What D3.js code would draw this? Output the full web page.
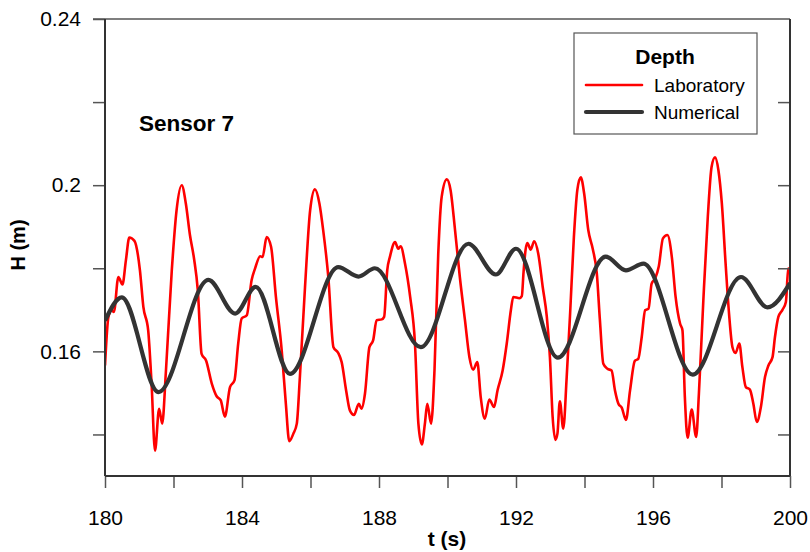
<!DOCTYPE html>
<html>
<head>
<meta charset="utf-8">
<script src="https://cdn.jsdelivr.net/npm/d3@7"></script>
<style>
  html, body { margin: 0; padding: 0; background: #fff; }
  svg { display: block; font-family: "Liberation Sans", Arial, sans-serif; }
</style>
</head>
<body>
<svg id="chart" width="810" height="552"></svg>
<script>
// ---------- data ----------
const labTime = [180.00,180.10,180.19,180.26,180.39,180.51,180.61,180.71,180.86,181.02,181.12,181.26,181.36,181.46,181.58,181.67,181.78,181.95,182.09,182.24,182.36,182.48,182.60,182.71,182.82,182.95,183.12,183.26,183.38,183.50,183.65,183.78,183.89,183.99,184.14,184.28,184.38,184.53,184.60,184.72,184.85,184.99,185.16,185.28,185.38,185.50,185.60,185.69,185.84,185.99,186.13,186.26,186.37,186.52,186.67,186.81,186.91,187.04,187.15,187.27,187.41,187.49,187.59,187.72,187.83,187.93,188.08,188.15,188.24,188.32,188.47,188.56,188.63,188.76,188.91,189.05,189.15,189.25,189.34,189.41,189.52,189.62,189.73,189.83,189.98,190.09,190.22,190.36,190.51,190.64,190.75,190.87,190.97,191.09,191.22,191.36,191.46,191.61,191.73,191.85,191.92,192.10,192.17,192.22,192.28,192.33,192.43,192.53,192.65,192.78,192.90,192.99,193.07,193.15,193.21,193.28,193.38,193.48,193.58,193.69,193.79,193.89,193.99,194.11,194.24,194.36,194.45,194.55,194.67,194.79,194.89,194.99,195.09,195.21,195.33,195.47,195.57,195.67,195.77,195.87,195.96,196.06,196.17,196.29,196.42,196.55,196.66,196.79,196.86,196.93,197.01,197.13,197.26,197.34,197.47,197.60,197.71,197.81,197.91,198.01,198.12,198.22,198.32,198.41,198.52,198.61,198.71,198.83,198.93,199.03,199.15,199.27,199.37,199.49,199.56,199.66,199.78,199.88,199.95,200.00];
const labDepth = [0.1566,0.1683,0.1699,0.1695,0.1779,0.1761,0.1819,0.1874,0.1866,0.1795,0.1707,0.1651,0.1522,0.1361,0.1462,0.1426,0.1554,0.1795,0.1940,0.2000,0.1956,0.1880,0.1823,0.1747,0.1594,0.1578,0.1522,0.1492,0.1482,0.1443,0.1514,0.1530,0.1619,0.1679,0.1687,0.1771,0.1799,0.1829,0.1827,0.1875,0.1851,0.1731,0.1602,0.1474,0.1384,0.1402,0.1426,0.1538,0.1755,0.1940,0.1990,0.1956,0.1892,0.1779,0.1610,0.1596,0.1574,0.1506,0.1458,0.1447,0.1474,0.1462,0.1498,0.1610,0.1627,0.1675,0.1677,0.1683,0.1795,0.1828,0.1863,0.1847,0.1853,0.1811,0.1731,0.1619,0.1426,0.1376,0.1426,0.1474,0.1426,0.1554,0.1835,0.1972,0.2014,0.1988,0.1892,0.1779,0.1675,0.1586,0.1556,0.1574,0.1490,0.1438,0.1484,0.1466,0.1506,0.1554,0.1619,0.1699,0.1731,0.1728,0.1733,0.1790,0.1845,0.1861,0.1845,0.1865,0.1835,0.1755,0.1683,0.1586,0.1442,0.1387,0.1402,0.1480,0.1414,0.1538,0.1691,0.1875,0.1988,0.2019,0.1980,0.1892,0.1847,0.1787,0.1675,0.1570,0.1558,0.1554,0.1506,0.1474,0.1464,0.1435,0.1506,0.1577,0.1582,0.1634,0.1699,0.1703,0.1763,0.1775,0.1805,0.1872,0.1880,0.1827,0.1731,0.1667,0.1651,0.1490,0.1392,0.1460,0.1394,0.1498,0.1723,0.1924,0.2044,0.2067,0.2036,0.1956,0.1811,0.1691,0.1610,0.1596,0.1619,0.1562,0.1514,0.1508,0.1474,0.1430,0.1466,0.1538,0.1566,0.1586,0.1634,0.1683,0.1700,0.1719,0.1799,0.1800];

const numTime = [180.00,180.49,181.56,183.02,183.80,184.40,185.40,186.81,187.40,187.88,189.22,190.61,191.41,192.00,193.22,194.62,195.21,195.72,197.16,198.57,199.34,200.00];
const numDepth = [0.1674,0.1730,0.1502,0.1772,0.1691,0.1755,0.1546,0.1803,0.1780,0.1800,0.1610,0.1859,0.1785,0.1847,0.1585,0.1828,0.1795,0.1811,0.1544,0.1779,0.1706,0.1764];

const xMajorTicks = [180,184,188,192,196,200];
const xMinorTicks = [182,186,190,194,198];
const yMajorTicks = [0.16,0.2,0.24];
const yTickLabels = ["0.16","0.2","0.24"];
const yMinorTicks = [0.14,0.18,0.22];

const seriesNames = ["Laboratory","Numerical"];
const seriesColors = ["#ff0000","#333333"];
const legendTitle = "Depth";
const annotation = "Sensor 7";
const xTitle = "t (s)";
const yTitle = "H (m)";

// ---------- layout ----------
const svg = d3.select("#chart");
const L = 105, R = 790, T = 19, B = 476;
const x = d3.scaleLinear().domain([180,200]).range([L,R]);
const y = d3.scaleLinear().domain([0.13,0.24]).range([B,T]);
const font = '"Liberation Sans", Arial, sans-serif';
const tickColor = "#555";

// curves
const labData = labTime.map((t,i)=>[t,labDepth[i]]);
const numData = numTime.map((t,i)=>[t,numDepth[i]]);
const line = d3.line().x(d=>x(d[0])).y(d=>y(d[1])).curve(d3.curveMonotoneX);

svg.append("defs").append("clipPath").attr("id","clip")
  .append("rect").attr("x",L).attr("y",T).attr("width",R-L).attr("height",B-T);

const plot = svg.append("g").attr("clip-path","url(#clip)");
plot.append("path").datum(labData).attr("d",line)
  .attr("fill","none").attr("stroke",seriesColors[0]).attr("stroke-width",2.6)
  .attr("stroke-linejoin","round");
plot.append("path").datum(numData).attr("d",line)
  .attr("fill","none").attr("stroke",seriesColors[1]).attr("stroke-width",4.2)
  .attr("stroke-linejoin","round");

// axes
const allY = yMajorTicks.concat(yMinorTicks).sort((a,b)=>a-b);
const labelMap = new Map(yMajorTicks.map((v,i)=>[v,yTickLabels[i]]));

const gLeft = svg.append("g").attr("transform",`translate(${L},0)`)
  .call(d3.axisLeft(y).tickValues(allY).tickSize(12).tickPadding(12)
    .tickFormat(d=>labelMap.get(d)||""));
const gRight = svg.append("g").attr("transform",`translate(${R},0)`)
  .call(d3.axisLeft(y).tickValues(allY.filter(v=>v<0.24)).tickSize(12).tickFormat(""));
const gBottom = svg.append("g").attr("transform",`translate(0,${B})`)
  .call(d3.axisBottom(x).tickValues(xMajorTicks.concat(xMinorTicks).sort((a,b)=>a-b))
    .tickSize(12).tickPadding(22)
    .tickFormat(d=>xMajorTicks.includes(d)?String(d):""));

[gLeft,gRight,gBottom].forEach(g=>{
  g.select(".domain").remove();
  g.selectAll(".tick line").attr("stroke",tickColor).attr("stroke-width",1.5);
  g.selectAll(".tick text").attr("fill","#000").style("font-family",font).style("font-size","21px");
});

// frame
svg.append("line").attr("x1",L-12).attr("x2",R).attr("y1",T).attr("y2",T).attr("stroke","#555").attr("stroke-width",1.5);
svg.append("line").attr("x1",L).attr("x2",R).attr("y1",B).attr("y2",B).attr("stroke","#333").attr("stroke-width",2);
svg.append("line").attr("x1",L).attr("x2",L).attr("y1",T).attr("y2",B).attr("stroke","#333").attr("stroke-width",2);
svg.append("line").attr("x1",R).attr("x2",R).attr("y1",T).attr("y2",B).attr("stroke","#333").attr("stroke-width",2);

// titles
svg.append("text").attr("x",(L+R)/2 - 0.5).attr("y",546).attr("text-anchor","middle")
  .style("font-family",font).style("font-size","21px").style("font-weight","bold").text(xTitle);
svg.append("text").attr("transform","translate(25,245) rotate(-90)").attr("text-anchor","middle")
  .style("font-family",font).style("font-size","20px").style("font-weight","bold").text(yTitle);

svg.append("text").attr("x",139).attr("y",131)
  .style("font-family",font).style("font-size","22.5px").style("font-weight","bold").text(annotation);

// legend
const lg = svg.append("g");
lg.append("rect").attr("x",574).attr("y",33).attr("width",183).attr("height",101)
  .attr("fill","#fff").attr("stroke","#555").attr("stroke-width",1.2);
lg.append("text").attr("x",665).attr("y",64).attr("text-anchor","middle")
  .style("font-family",font).style("font-size","21px").style("font-weight","bold").text(legendTitle);
const rowsY = [85,112];
const widths = [2.6,4.2];
seriesNames.forEach((n,i)=>{
  lg.append("line").attr("x1",586).attr("x2",642).attr("y1",rowsY[i]).attr("y2",rowsY[i])
    .attr("stroke",seriesColors[i]).attr("stroke-width",widths[i]).attr("stroke-linecap","round");
  lg.append("text").attr("x",654).attr("y",rowsY[i]+7)
    .style("font-family",font).style("font-size","19px").text(n);
});
</script>
</body>
</html>
